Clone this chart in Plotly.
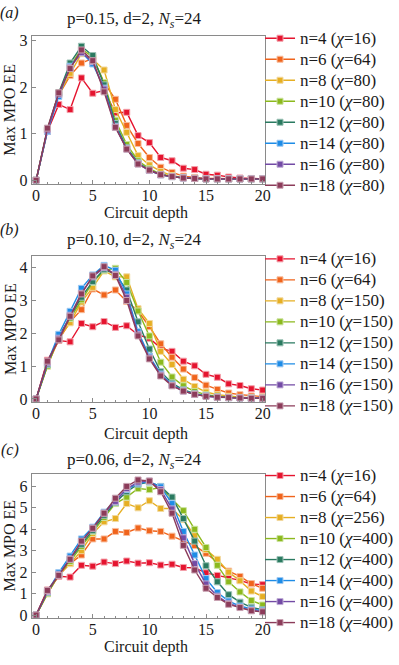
import plotly.graph_objects as go

# circuit depth on the x axis
depth = list(range(21))
n_values = [4, 6, 8, 10, 12, 14, 16, 18]

# bond dimensions per panel
chi_a = [16, 64, 80, 80, 80, 80, 80, 80]
chi_b = [16, 64, 150, 150, 150, 150, 150, 150]
chi_c = [16, 64, 256, 400, 400, 400, 400, 400]

# panel (a): p=0.15
a_n4 = [0, 1.05, 1.63, 1.52, 2.2, 1.87, 1.93, 1.45, 1.46, 0.96, 0.81, 0.49, 0.42, 0.26, 0.23, 0.13, 0.11, 0.07, 0.05, 0.04, 0.03]
a_n6 = [0, 1.08, 1.83, 2.25, 2.52, 2.62, 2.1, 1.74, 1.18, 0.79, 0.49, 0.28, 0.17, 0.09, 0.06, 0.04, 0.04, 0.03, 0.03, 0.03, 0.03]
a_n8 = [0, 1.08, 1.85, 2.3, 2.72, 2.6, 2.37, 1.52, 1.03, 0.53, 0.33, 0.19, 0.1, 0.06, 0.04, 0.03, 0.03, 0.03, 0.03, 0.03, 0.03]
a_n10 = [0, 1.08, 1.87, 2.45, 2.82, 2.65, 2.1, 1.29, 0.77, 0.42, 0.25, 0.13, 0.09, 0.06, 0.04, 0.03, 0.03, 0.03, 0.03, 0.03, 0.03]
a_n12 = [0, 1.1, 1.88, 2.52, 2.88, 2.68, 2.05, 1.22, 0.7, 0.38, 0.22, 0.12, 0.08, 0.05, 0.04, 0.03, 0.03, 0.03, 0.03, 0.03, 0.03]
a_n14 = [0, 1.05, 1.8, 2.45, 2.75, 2.5, 1.98, 1.16, 0.68, 0.36, 0.21, 0.12, 0.08, 0.05, 0.04, 0.03, 0.03, 0.03, 0.03, 0.03, 0.03]
a_n16 = [0, 1.08, 1.85, 2.42, 2.74, 2.55, 1.96, 1.14, 0.67, 0.35, 0.21, 0.12, 0.08, 0.05, 0.04, 0.03, 0.03, 0.03, 0.03, 0.03, 0.03]
a_n18 = [0, 1.12, 1.88, 2.4, 2.8, 2.57, 1.9, 1.14, 0.67, 0.35, 0.22, 0.12, 0.08, 0.05, 0.04, 0.03, 0.03, 0.03, 0.03, 0.03, 0.03]

# panel (b): p=0.10
b_n4 = [0, 1.18, 1.78, 1.74, 2.3, 2.2, 2.36, 2.18, 2.23, 1.95, 1.85, 1.55, 1.45, 1.15, 1.01, 0.75, 0.66, 0.46, 0.41, 0.31, 0.27]
b_n6 = [0, 1.05, 1.8, 2.35, 2.72, 3.35, 3.17, 3.32, 2.97, 2.68, 2.2, 1.68, 1.27, 0.91, 0.65, 0.42, 0.29, 0.18, 0.13, 0.09, 0.07]
b_n8 = [0, 1.0, 1.85, 2.32, 2.95, 3.4, 3.9, 3.72, 3.72, 2.75, 2.3, 1.45, 1.05, 0.6, 0.38, 0.21, 0.13, 0.08, 0.05, 0.04, 0.03]
b_n10 = [0, 1.0, 1.9, 2.45, 3.02, 3.55, 3.92, 3.98, 3.55, 2.68, 1.92, 1.12, 0.67, 0.4, 0.23, 0.13, 0.08, 0.05, 0.04, 0.03, 0.02]
b_n12 = [0, 1.05, 1.9, 2.5, 3.1, 3.58, 3.95, 3.8, 3.32, 2.35, 1.52, 0.83, 0.48, 0.28, 0.16, 0.1, 0.06, 0.04, 0.03, 0.02, 0.02]
b_n14 = [0, 1.1, 1.97, 2.67, 3.37, 3.78, 4.07, 3.92, 3.2, 2.05, 1.3, 0.76, 0.43, 0.25, 0.14, 0.09, 0.05, 0.04, 0.03, 0.02, 0.02]
b_n16 = [0, 1.1, 1.85, 2.55, 3.22, 3.72, 4.0, 3.8, 3.1, 1.97, 1.25, 0.73, 0.41, 0.24, 0.14, 0.08, 0.05, 0.04, 0.03, 0.02, 0.02]
b_n18 = [0, 1.15, 1.8, 2.52, 3.2, 3.75, 4.03, 3.76, 3.0, 1.92, 1.22, 0.7, 0.4, 0.24, 0.14, 0.08, 0.05, 0.04, 0.03, 0.02, 0.02]

# panel (c): p=0.06
c_n4 = [0, 1.17, 1.81, 1.77, 2.32, 2.28, 2.47, 2.4, 2.52, 2.42, 2.44, 2.33, 2.37, 2.22, 2.2, 1.97, 1.85, 1.72, 1.62, 1.45, 1.42]
c_n6 = [0, 1.0, 1.85, 2.4, 2.8, 3.55, 3.55, 3.9, 3.85, 4.06, 3.93, 3.9, 3.68, 3.47, 3.24, 2.88, 2.47, 2.05, 1.8, 1.47, 1.25]
c_n8 = [0, 1.0, 1.88, 2.4, 3.0, 3.8, 4.35, 4.5, 5.2, 5.0, 5.33, 4.97, 4.97, 4.45, 3.7, 3.05, 2.6, 2.0, 1.6, 1.12, 0.86]
c_n10 = [0, 1.0, 1.9, 2.5, 3.2, 3.9, 4.55, 5.2, 5.5, 5.9, 5.85, 5.95, 5.4, 4.87, 4.0, 3.15, 2.32, 1.55, 1.08, 0.68, 0.47]
c_n12 = [0, 1.05, 1.92, 2.6, 3.3, 3.95, 4.65, 5.25, 5.75, 6.1, 6.2, 6.0, 5.5, 4.5, 3.45, 2.3, 1.55, 0.95, 0.6, 0.36, 0.25]
c_n14 = [0, 1.1, 1.98, 2.75, 3.55, 4.1, 4.8, 5.35, 5.85, 6.15, 6.22, 5.98, 5.2, 3.9, 2.8, 1.7, 1.05, 0.65, 0.42, 0.28, 0.2]
c_n16 = [0, 1.1, 1.9, 2.62, 3.42, 4.05, 4.75, 5.3, 5.9, 6.2, 6.25, 5.85, 4.95, 3.6, 2.4, 1.45, 0.88, 0.55, 0.36, 0.22, 0.16]
c_n18 = [0, 1.15, 1.85, 2.6, 3.45, 4.05, 4.75, 5.45, 6.0, 6.3, 6.25, 5.75, 4.75, 3.25, 2.1, 1.25, 0.82, 0.5, 0.35, 0.2, 0.15]

colors = ['#E5142F', '#F0641C', '#E6AF23', '#8CB91E', '#2A7A60', '#1E8CE6', '#734BA5', '#8C3C5A']
halos = ['#F3A0AA', '#F8BE9E', '#F2D9A0', '#CBE39E', '#9CC2B5', '#9FC9F2', '#C0ADD6', '#C9A3B2']

SERIF = "Liberation Serif"
INK = '#1a1a1a'
FRAME = '#8a8a8a'
W, H = 399, 665

# pixel boxes of the frames
x_left, x_right = 32.3, 269.3
panels = [
    dict(label='(a)', p='0.15', chi=chi_a, series=[a_n4, a_n6, a_n8, a_n10, a_n12, a_n14, a_n16, a_n18],
         top=32.5, bottom=182.3, yrange=[-0.07, 3.1], title_y=16, lab_y=9, xt_y=212, leg_y=19),
    dict(label='(b)', p='0.10', chi=chi_b, series=[b_n4, b_n6, b_n8, b_n10, b_n12, b_n14, b_n16, b_n18],
         top=255.7, bottom=404.3, yrange=[-0.1, 4.36], title_y=241, lab_y=229, xt_y=437, leg_y=243),
    dict(label='(c)', p='0.06', chi=chi_c, series=[c_n4, c_n6, c_n8, c_n10, c_n12, c_n14, c_n16, c_n18],
         top=476.7, bottom=623.0, yrange=[-0.12, 6.6], title_y=464, lab_y=453, xt_y=653, leg_y=463),
]

fig = go.Figure()
annotations = []
layout = {}

for i, panel in enumerate(panels):
    k = '' if i == 0 else str(i + 1)
    legend_name = 'legend' + k

    for j, ys in enumerate(panel['series']):
        fig.add_trace(go.Scatter(
            x=depth,
            y=ys,
            mode='lines+markers',
            name=f"<span style='font-size:17px'>n={n_values[j]} (<i>χ</i>={panel['chi'][j]})</span>",
            line=dict(color=colors[j], width=1.4),
            marker=dict(symbol='square', size=6, color=colors[j], line=dict(color=halos[j], width=1)),
            xaxis='x' + k,
            yaxis='y' + k,
            legend=legend_name,
        ))

    layout['xaxis' + k] = dict(
        domain=[x_left / W, x_right / W],
        anchor='y' + k,
        range=[-0.38, 20.23],
        tickvals=[0, 5, 10, 15, 20],
        ticks='inside', ticklen=4, tickcolor=FRAME,
        minor=dict(dtick=1, ticks='inside', ticklen=2, tickcolor=FRAME),
        showline=True, linecolor=FRAME, linewidth=1, mirror=True,
        showgrid=False, zeroline=False,
        ticklabelstandoff=-3,
        tickfont=dict(family=SERIF, size=16, color=INK),
    )
    layout['yaxis' + k] = dict(
        domain=[1 - panel['bottom'] / H, 1 - panel['top'] / H],
        anchor='x' + k,
        range=panel['yrange'],
        dtick=1,
        ticks='inside', ticklen=4, tickcolor=FRAME,
        showline=True, linecolor=FRAME, linewidth=1, mirror=True,
        showgrid=False, zeroline=False,
        tickfont=dict(family=SERIF, size=16, color=INK),
    )
    layout[legend_name] = dict(
        x=264 / W, xanchor='left',
        y=1 - panel['leg_y'] / H, yanchor='top',
        bgcolor='rgba(0,0,0,0)',
        font=dict(family=SERIF, size=13.85, color=INK),
        itemwidth=30,
        tracegroupgap=0,
    )

    # panel title, label and axis titles
    annotations.append(dict(
        text=f"p={panel['p']}, d=2, <i>N</i><sub><i>s</i></sub>=24",
        x=137 / W, y=1 - panel['title_y'] / H, xanchor='center', yanchor='middle',
        showarrow=False, font=dict(family=SERIF, size=17, color=INK),
    ))
    annotations.append(dict(
        text=f"<i>{panel['label']}</i>",
        x=10 / W, y=1 - panel['lab_y'] / H, xanchor='center', yanchor='middle',
        showarrow=False, font=dict(family=SERIF, size=16, color=INK),
    ))
    annotations.append(dict(
        text="Circuit depth",
        x=148 / W, y=1 - panel['xt_y'] / H, xanchor='center', yanchor='middle',
        showarrow=False, font=dict(family=SERIF, size=16, color=INK),
    ))
    annotations.append(dict(
        text="Max MPO EE", textangle=-90,
        x=10 / W, y=1 - (panel['top'] + panel['bottom']) / 2 / H, xanchor='center', yanchor='middle',
        showarrow=False, font=dict(family=SERIF, size=16, color=INK),
    ))

for a in annotations:
    a['xref'] = 'paper'
    a['yref'] = 'paper'

fig.update_layout(
    width=W,
    height=H,
    margin=dict(l=0, r=0, t=0, b=0),
    paper_bgcolor='white',
    plot_bgcolor='white',
    showlegend=True,
    annotations=annotations,
    **layout,
)

# drop the browser's default 8px body margin so the figure fills the window
fig.write_html("out.html", config={'displayModeBar': False},
               post_script="document.body.style.margin='0px';")
